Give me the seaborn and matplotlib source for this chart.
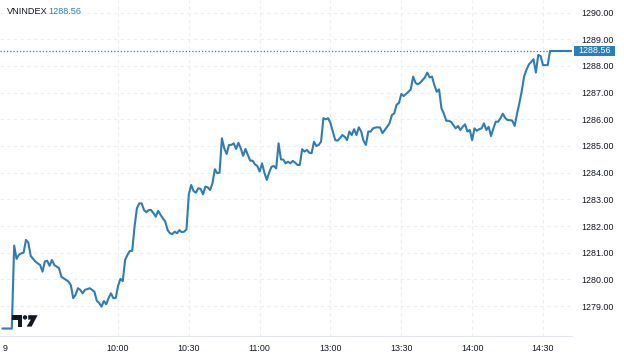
import matplotlib
matplotlib.use("Agg")
import matplotlib.pyplot as plt
import matplotlib.transforms as mtransforms
from matplotlib.patches import Polygon, Circle, Rectangle
import seaborn as sns
import pandas as pd

# ---------------- data ----------------
times = [
    "09:11", "09:15", "09:16", "09:17", "09:18", "09:19", "09:20", "09:21", "09:22", "09:23",
    "09:25", "09:26", "09:27", "09:28", "09:29", "09:30", "09:31", "09:32", "09:33", "09:35",
    "09:36", "09:38", "09:39", "09:40", "09:41", "09:42", "09:43", "09:44", "09:45", "09:46",
    "09:48", "09:49", "09:50", "09:51", "09:52", "09:53", "09:54", "09:55", "09:56", "09:57",
    "09:58", "09:59", "10:00", "10:01", "10:02", "10:03", "10:04", "10:05", "10:06", "10:07",
    "10:08", "10:09", "10:10", "10:11", "10:12", "10:13", "10:14", "10:15", "10:16", "10:17",
    "10:18", "10:19", "10:20", "10:21", "10:22", "10:23", "10:24", "10:25", "10:26", "10:27",
    "10:28", "10:29", "10:30", "10:31", "10:32", "10:33", "10:34", "10:35", "10:36", "10:37",
    "10:38", "10:39", "10:40", "10:41", "10:42", "10:43", "10:44", "10:45", "10:46", "10:47",
    "10:48", "10:49", "10:50", "10:51", "10:52", "10:53", "10:54", "10:55", "10:56", "10:57",
    "10:58", "10:59", "11:00", "11:01", "11:02", "11:03", "11:04", "11:05", "11:06", "11:07",
    "11:08", "11:09", "11:10", "11:11", "11:12", "11:13", "11:14", "11:15", "11:16", "11:17",
    "11:18", "11:19", "11:20", "11:21", "11:22", "11:23", "11:24", "11:25", "11:26", "11:27",
    "11:28", "11:29", "13:00", "13:01", "13:02", "13:03", "13:04", "13:05", "13:06", "13:07",
    "13:08", "13:09", "13:10", "13:11", "13:12", "13:13", "13:14", "13:15", "13:16", "13:17",
    "13:18", "13:19", "13:20", "13:21", "13:22", "13:23", "13:24", "13:25", "13:26", "13:27",
    "13:28", "13:29", "13:30", "13:31", "13:32", "13:33", "13:34", "13:35", "13:36", "13:37",
    "13:38", "13:39", "13:40", "13:41", "13:42", "13:43", "13:44", "13:45", "13:46", "13:47",
    "13:48", "13:49", "13:50", "13:51", "13:52", "13:53", "13:54", "13:55", "13:56", "13:57",
    "13:58", "13:59", "14:00", "14:01", "14:02", "14:03", "14:04", "14:05", "14:06", "14:07",
    "14:08", "14:09", "14:10", "14:11", "14:12", "14:13", "14:14", "14:15", "14:16", "14:17",
    "14:18", "14:19", "14:20", "14:21", "14:22", "14:23", "14:24", "14:25", "14:26", "14:27",
    "14:28", "14:29", "14:30", "14:31", "14:32", "14:33", "14:42",
]
values = [
    1278.16, 1278.16, 1281.27, 1280.77, 1280.92, 1280.98, 1281.00, 1281.48, 1281.38, 1280.88,
    1280.67, 1280.60, 1280.54, 1280.29, 1280.67, 1280.70, 1280.51, 1280.73, 1280.54, 1280.42,
    1280.10, 1279.98, 1279.92, 1279.79, 1279.30, 1279.42, 1279.67, 1279.61, 1279.48, 1279.61,
    1279.67, 1279.61, 1279.54, 1279.20, 1279.12, 1278.98, 1279.19, 1279.07, 1279.30, 1279.48,
    1279.30, 1279.30, 1279.75, 1280.02, 1279.94, 1280.73, 1280.92, 1281.07, 1281.07, 1281.98,
    1282.67, 1282.85, 1282.85, 1282.60, 1282.52, 1282.60, 1282.60, 1282.48, 1282.35, 1282.57,
    1282.42, 1282.29, 1282.17, 1281.85, 1281.73, 1281.70, 1281.79, 1281.73, 1281.85, 1281.77,
    1281.79, 1281.88, 1283.20, 1283.54, 1283.31, 1283.25, 1283.42, 1283.39, 1283.19, 1283.48,
    1283.45, 1283.35, 1283.60, 1284.13, 1283.98, 1284.00, 1285.29, 1284.91, 1284.70, 1285.04,
    1285.04, 1285.10, 1284.89, 1285.12, 1284.91, 1284.63, 1284.89, 1284.66, 1284.45, 1284.45,
    1284.31, 1284.25, 1284.04, 1284.35, 1284.00, 1283.73, 1284.00, 1284.22, 1284.25, 1284.16,
    1285.10, 1284.50, 1284.49, 1284.35, 1284.41, 1284.35, 1284.44, 1284.38, 1284.29, 1284.29,
    1284.88, 1284.79, 1284.85, 1284.75, 1284.73, 1285.16, 1285.00, 1285.04, 1285.16, 1286.04,
    1286.00, 1286.04, 1285.85, 1285.54, 1285.22, 1285.20, 1285.29, 1285.41, 1285.35, 1285.22,
    1285.54, 1285.41, 1285.63, 1285.41, 1285.70, 1285.54, 1285.19, 1285.04, 1285.54, 1285.54,
    1285.66, 1285.69, 1285.70, 1285.69, 1285.48, 1285.60, 1285.72, 1285.85, 1286.16, 1286.22,
    1286.55, 1286.61, 1286.95, 1286.87, 1286.95, 1287.03, 1287.12, 1287.60, 1287.37, 1287.31,
    1287.37, 1287.47, 1287.57, 1287.75, 1287.57, 1287.60, 1287.28, 1287.03, 1287.12, 1286.41,
    1286.22, 1285.95, 1285.94, 1285.91, 1285.79, 1285.66, 1285.75, 1285.60, 1285.72, 1285.81,
    1285.54, 1285.60, 1285.22, 1285.66, 1285.57, 1285.63, 1285.66, 1285.85, 1285.60, 1285.72,
    1285.37, 1285.66, 1285.91, 1285.91, 1286.04, 1286.21, 1286.05, 1285.97, 1285.97, 1285.95,
    1285.75, 1286.20, 1286.60, 1287.05, 1287.60, 1287.85, 1288.05, 1288.15, 1288.25, 1287.75,
    1288.41, 1288.37, 1288.03, 1288.03, 1288.03, 1288.56, 1288.56,
]
tick_times = ["10:00", "10:30", "11:00", "13:00", "13:30", "14:00", "14:30"]
tick_labels = ["10:00", "10:30", "11:00", "13:00", "13:30", "14:00", "14:30"]
day_tick_time = "09:12"
day_tick_label = "9"
y_ticks = [1279, 1280, 1281, 1282, 1283, 1284, 1285, 1286, 1287, 1288, 1289, 1290]
symbol = "VNINDEX"
last_value = 1288.56


def trading_minute(t):
    h, m = map(int, t.split(":"))
    mins = h * 60 + m
    if mins >= 13 * 60:          # lunch break collapsed
        mins -= 90
    return mins - 600            # minutes from 10:00


df = pd.DataFrame({"t": [trading_minute(t) for t in times], "price": values})

# ---------------- style ----------------
sns.set_style("white")
plt.rcParams["font.family"] = ["Liberation Sans", "DejaVu Sans"]

BLUE = "#2b7dbc"
TXT = "#131722"
GRID = "#eceef2"

W, H = 624, 360
fig = plt.figure(figsize=(W / 100, H / 100), dpi=100)
ax = fig.add_axes([0, 24 / H, 572 / W, 336 / H])

sns.lineplot(data=df, x="t", y="price", ax=ax, color=BLUE, linewidth=1.5, legend=False)

ax.set_xlim(-50, 192.3)
ax.set_ylim(1277.88, 1290.47)

ax.set_xticks([trading_minute(t) for t in tick_times])
ax.set_xticklabels(tick_labels)
ax.set_xticks([trading_minute(day_tick_time)], minor=True)
ax.set_xticklabels([day_tick_label], minor=True)
ax.set_yticks(y_ticks)
ax.set_yticklabels([f"{v:.2f}" for v in y_ticks])
ax.yaxis.tick_right()

ax.tick_params(axis="both", which="both", length=0, labelsize=6.4, colors=TXT)
ax.tick_params(axis="x", which="both", pad=6)
ax.tick_params(axis="y", pad=7)

ax.grid(True, which="major", color=GRID, linestyle=(0, (3, 3)), linewidth=0.8)
ax.set_xlabel("")
ax.set_ylabel("")
for s in ["top", "left", "right"]:
    ax.spines[s].set_visible(False)
ax.spines["bottom"].set_color("#e4e6eb")
ax.spines["bottom"].set_linewidth(0.8)

# last-price dotted line and tag
ax.axhline(last_value, color=BLUE, linestyle=(0, (1, 1.6)), linewidth=0.9)
tr = mtransforms.blended_transform_factory(ax.transAxes, ax.transData)
ax.add_patch(Rectangle((574 / 572, last_value - 0.205), 41 / 572, 0.41,
                       transform=tr, facecolor=BLUE, edgecolor="none", clip_on=False, zorder=5))
ax.text(594.5 / 572, last_value, f"{last_value:.2f}", transform=tr, ha="center", va="center",
        color="white", fontsize=6.4, clip_on=False, zorder=6)

# header
fig.text(6.7 / W, 1 - 11.5 / H, symbol, ha="left", va="center", fontsize=6.6, color=TXT)
fig.text(48.3 / W, 1 - 11.5 / H, f"{last_value:.2f}", ha="left", va="center",
         fontsize=6.6, color=BLUE)

# logo
px = mtransforms.Affine2D().scale(0.01, -0.01).translate(0, H / 100) + fig.dpi_scale_trans
fig.add_artist(Polygon([(12, 315.2), (22, 315.2), (22, 326.6), (17.6, 326.6),
                        (17.6, 319.6), (12, 319.6)], closed=True, transform=px,
                       facecolor=TXT, edgecolor="none"))
fig.add_artist(Circle((25.0, 317.4), 2.2, transform=px, facecolor=TXT, edgecolor="none"))
fig.add_artist(Polygon([(28.2, 315.2), (37.6, 315.2), (31.6, 326.6), (26.6, 326.6),
                        (30.9, 319.6), (28.2, 319.6)], closed=True, transform=px,
                       facecolor=TXT, edgecolor="none"))

fig.savefig("out.png", dpi=100)
